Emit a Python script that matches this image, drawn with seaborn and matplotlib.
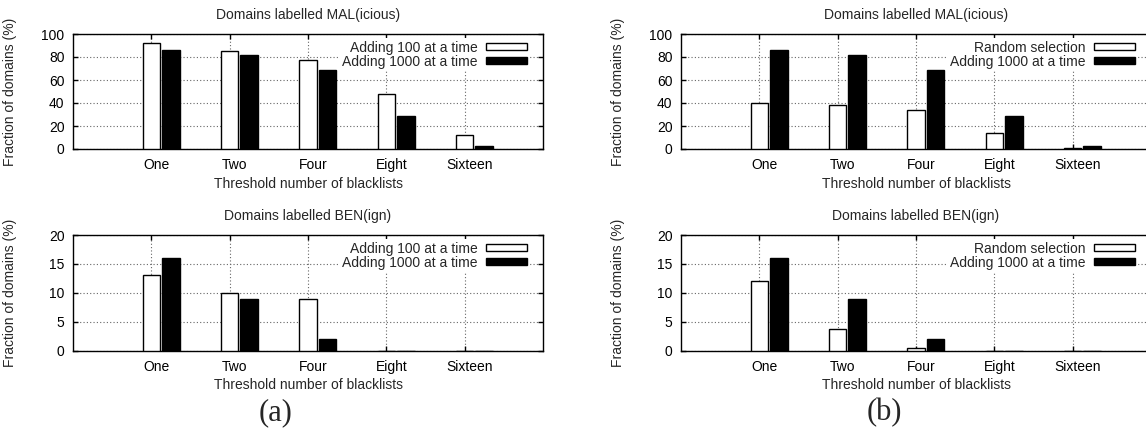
import numpy as np
import pandas as pd
import matplotlib
matplotlib.use("Agg")
import matplotlib.pyplot as plt
from matplotlib.transforms import ScaledTranslation
import seaborn as sns

# Threshold categories (number of blacklists)
categories = ["One", "Two", "Four", "Eight", "Sixteen"]

# (a) incremental addition, 100 vs 1000 domains at a time
a_mal_add100 = [92, 85, 77, 48, 12.5]
a_mal_add1000 = [86, 82, 69, 29, 3]
a_ben_add100 = [13, 10, 9, 0, 0]
a_ben_add1000 = [16, 9, 2, 0, 0]

# (b) random selection vs adding 1000 at a time
b_mal_random = [40, 38.5, 34, 13.5, 0.8]
b_mal_add1000 = [86, 82, 69, 29, 3]
b_ben_random = [12, 3.7, 0.5, 0, 0]
b_ben_add1000 = [16, 9, 2, 0, 0]

series_a = ["Adding 100 at a time", "Adding 1000 at a time"]
series_b = ["Random selection", "Adding 1000 at a time"]

title_mal = "Domains labelled MAL(icious)"
title_ben = "Domains labelled BEN(ign)"
xlabel = "Threshold number of blacklists"
ylabel = "Fraction of domains (%)"

sns.set_style("white")
plt.rcParams["font.family"] = ["Liberation Sans", "DejaVu Sans"]
plt.rcParams["font.size"] = 10

W, H, DPI = 1146, 434, 100
fig = plt.figure(figsize=(W / DPI, H / DPI), dpi=DPI)


def px_axes(x0, y0, x1, y1):
    """Axes from a pixel box measured from the top-left corner."""
    return fig.add_axes([x0 / W, 1 - y1 / H, (x1 - x0) / W, (y1 - y0) / H])


def long_frame(names, first, second):
    return pd.DataFrame({
        "category": categories * 2,
        "series": [names[0]] * len(categories) + [names[1]] * len(categories),
        "value": list(first) + list(second),
    })


def panel(ax, df, names, title, ymax, ystep):
    sns.barplot(data=df, x="category", y="value", hue="series",
                hue_order=names, order=categories,
                palette=["white", "black"], edgecolor="black", linewidth=1.0,
                width=0.5, gap=0.1, saturation=1, errorbar=None,
                legend=False, ax=ax, zorder=3)
    # ticks sit under the first bar of each cluster
    offs = -0.125
    ticks = np.arange(len(categories)) + offs
    ax.set_xticks(ticks)
    ax.set_xticklabels(categories)
    ax.set_xlim(-1 + offs, 5 + offs)
    ax.set_ylim(0, ymax)
    ax.set_yticks(np.arange(0, ymax + 0.1, ystep))
    ax.set_axisbelow(True)
    ax.grid(True, color="#666666", linestyle=(0, (1, 2)), linewidth=0.8)
    for s in ax.spines.values():
        s.set_visible(True)
        s.set_color("black")
        s.set_linewidth(1.0)
    ax.tick_params(axis="both", direction="in", length=3.6, width=1,
                   top=True, right=True, bottom=True, left=True,
                   colors="black", labelsize=10)
    ax.tick_params(axis="x", pad=6.5)
    ax.tick_params(axis="y", pad=6.2)
    shift = ScaledTranslation(5 / DPI, 0, fig.dpi_scale_trans)
    for lab in ax.get_xticklabels():
        lab.set_transform(lab.get_transform() + shift)
    ax.set_title(title, fontsize=10, pad=11)
    ax.set_xlabel(xlabel, fontsize=10, labelpad=3.5)
    ax.set_ylabel(ylabel, fontsize=10)
    ax.yaxis.set_label_coords(-0.12, 0.5)
    handles = [ax.containers[0], ax.containers[1]]
    leg = ax.legend(handles, names, loc="upper right",
                    bbox_to_anchor=(0.971, 0.966), borderaxespad=0,
                    markerfirst=False, frameon=True, fancybox=False,
                    framealpha=1, edgecolor="none", facecolor="white",
                    handlelength=2.9, handleheight=0.45, handletextpad=0.63,
                    labelspacing=0.0, borderpad=0.2, fontsize=10)
    leg.set_zorder(5)


ax_a1 = px_axes(73, 34, 543, 149)
ax_a2 = px_axes(73, 235, 543, 350.5)
ax_b1 = px_axes(681, 34, 1151, 149)
ax_b2 = px_axes(681, 235, 1151, 350.5)

panel(ax_a1, long_frame(series_a, a_mal_add100, a_mal_add1000), series_a,
      title_mal, 100, 20)
panel(ax_a2, long_frame(series_a, a_ben_add100, a_ben_add1000), series_a,
      title_ben, 20, 5)
panel(ax_b1, long_frame(series_b, b_mal_random, b_mal_add1000), series_b,
      title_mal, 100, 20)
panel(ax_b2, long_frame(series_b, b_ben_random, b_ben_add1000), series_b,
      title_ben, 20, 5)

fig.text(276 / W, 1 - 413 / H, "(a)", family="Liberation Serif",
         fontsize=22, ha="center", va="center")
fig.text(884 / W, 1 - 413 / H, "(b)", family="Liberation Serif",
         fontsize=22, ha="center", va="center")

fig.savefig("out.png", dpi=DPI, facecolor="white")
